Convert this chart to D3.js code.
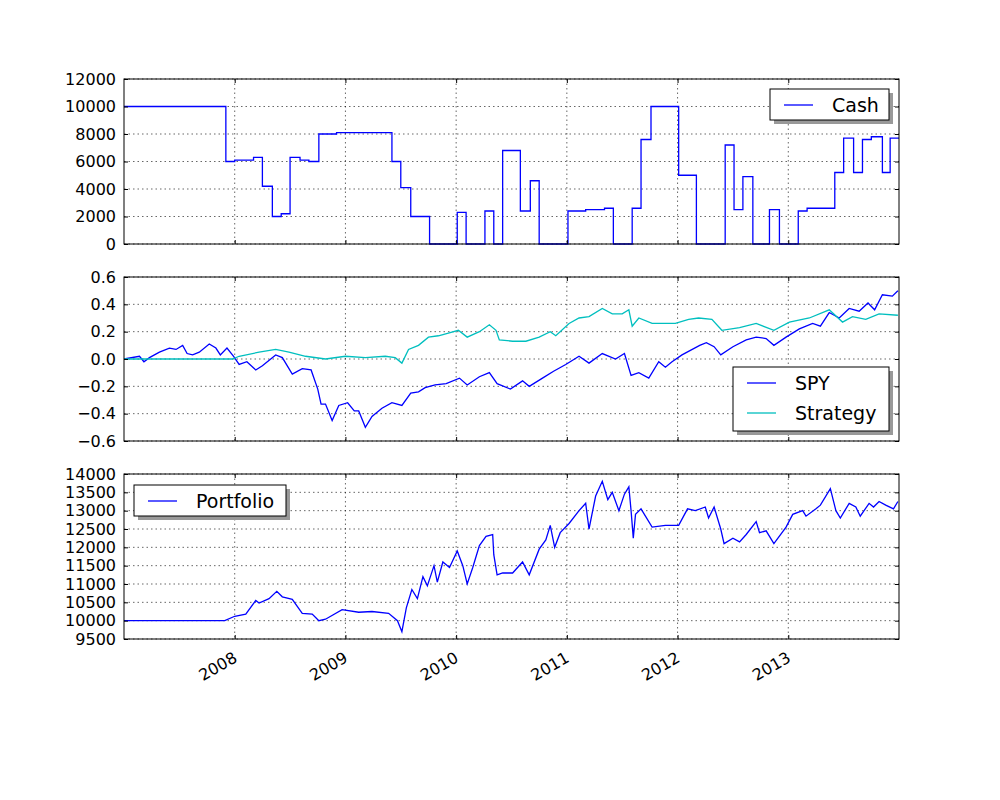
<!DOCTYPE html>
<html>
<head>
<meta charset="utf-8">
<script src="https://cdn.jsdelivr.net/npm/d3@7"></script>
<style>
  body { margin: 0; background: white; }
  text { font-family: "DejaVu Sans", sans-serif; }
</style>
</head>
<body>
<script>
// values, dates as decimal years
const yearTicks = [2008, 2009, 2010, 2011, 2012, 2013];

// cash is a step series: [year, new value]
const cash = [[2007.00,10000],[2007.92,6000],[2008.00,6100],[2008.17,6300],[2008.25,4200],[2008.34,2000],
  [2008.42,2200],[2008.50,6300],[2008.59,6100],[2008.67,6000],[2008.76,8000],[2008.92,8100],[2009.42,6000],
  [2009.50,4100],[2009.59,2000],[2009.76,0],[2010.01,2300],[2010.09,0],[2010.26,2400],[2010.34,0],
  [2010.42,6800],[2010.58,2400],[2010.67,4600],[2010.75,0],[2011.01,2400],[2011.17,2500],[2011.34,2600],
  [2011.42,0],[2011.59,2600],[2011.67,7600],[2011.76,10000],[2012.01,5000],[2012.17,0],[2012.43,7200],
  [2012.51,2500],[2012.59,4900],[2012.68,0],[2012.83,2500],[2012.92,0],[2013.09,2400],[2013.17,2600],
  [2013.42,5200],[2013.50,7700],[2013.59,5200],[2013.67,7600],[2013.75,7800],[2013.85,5200],
  [2013.92,7700],[2014.00,7700]];

const spy = [[2007.00,0.00],[2007.14,0.02],[2007.18,-0.02],[2007.23,0.01],[2007.32,0.05],[2007.41,0.08],
  [2007.47,0.07],[2007.53,0.10],[2007.57,0.04],[2007.62,0.03],[2007.68,0.05],[2007.77,0.11],[2007.83,0.08],
  [2007.87,0.03],[2007.93,0.08],[2007.99,0.02],[2008.04,-0.04],[2008.11,-0.02],[2008.19,-0.08],
  [2008.25,-0.05],[2008.37,0.03],[2008.43,0.01],[2008.52,-0.11],[2008.61,-0.07],[2008.69,-0.08],
  [2008.75,-0.22],[2008.78,-0.33],[2008.82,-0.33],[2008.88,-0.45],[2008.94,-0.34],[2009.02,-0.32],
  [2009.08,-0.38],[2009.12,-0.38],[2009.18,-0.50],[2009.24,-0.42],[2009.33,-0.36],[2009.42,-0.32],
  [2009.51,-0.34],[2009.59,-0.25],[2009.66,-0.24],[2009.72,-0.21],[2009.81,-0.19],[2009.91,-0.18],
  [2010.03,-0.14],[2010.10,-0.19],[2010.21,-0.13],[2010.30,-0.10],[2010.37,-0.18],[2010.49,-0.22],
  [2010.60,-0.16],[2010.66,-0.20],[2010.78,-0.14],[2010.88,-0.09],[2010.99,-0.04],[2011.11,0.02],
  [2011.20,-0.03],[2011.32,0.04],[2011.44,0.00],[2011.52,0.04],[2011.58,-0.12],[2011.65,-0.10],
  [2011.74,-0.14],[2011.83,-0.02],[2011.89,-0.06],[2011.95,-0.02],[2012.04,0.03],[2012.20,0.10],
  [2012.26,0.12],[2012.33,0.09],[2012.39,0.03],[2012.50,0.09],[2012.62,0.14],[2012.71,0.16],
  [2012.80,0.15],[2012.87,0.10],[2012.98,0.16],[2013.10,0.22],[2013.22,0.26],[2013.29,0.24],
  [2013.37,0.34],[2013.46,0.30],[2013.55,0.37],[2013.64,0.35],[2013.72,0.41],[2013.78,0.36],
  [2013.85,0.47],[2013.94,0.46],[2013.99,0.50]];

const strategy = [[2007.00,0],[2007.98,0],[2008.04,0.02],[2008.22,0.05],[2008.37,0.07],[2008.49,0.05],
  [2008.64,0.02],[2008.82,0.00],[2009.00,0.02],[2009.18,0.01],[2009.36,0.02],[2009.45,0.01],[2009.51,-0.03],
  [2009.57,0.07],[2009.66,0.10],[2009.75,0.16],[2009.84,0.17],[2009.93,0.19],[2010.02,0.21],[2010.10,0.16],
  [2010.21,0.20],[2010.30,0.25],[2010.36,0.21],[2010.39,0.14],[2010.51,0.13],[2010.63,0.13],[2010.75,0.16],
  [2010.85,0.20],[2010.90,0.17],[2011.02,0.26],[2011.11,0.30],[2011.20,0.31],[2011.32,0.37],[2011.41,0.33],
  [2011.50,0.33],[2011.56,0.36],[2011.59,0.24],[2011.65,0.30],[2011.77,0.26],[2011.98,0.26],[2012.10,0.29],
  [2012.19,0.30],[2012.31,0.29],[2012.40,0.21],[2012.56,0.23],[2012.71,0.26],[2012.87,0.21],[2013.01,0.27],
  [2013.19,0.30],[2013.37,0.36],[2013.49,0.27],[2013.58,0.31],[2013.70,0.29],[2013.82,0.33],[2013.99,0.32]];

const portfolio = [[2007.00,10000],[2007.91,10000],[2008.00,10120],[2008.10,10180],[2008.19,10550],
  [2008.22,10480],[2008.31,10600],[2008.38,10800],[2008.43,10650],[2008.52,10580],[2008.61,10200],
  [2008.70,10180],[2008.76,10000],[2008.82,10040],[2008.97,10300],[2009.12,10230],[2009.24,10250],
  [2009.39,10200],[2009.47,10000],[2009.51,9700],[2009.55,10350],[2009.60,10850],[2009.65,10600],
  [2009.70,11200],[2009.74,10950],[2009.80,11500],[2009.83,11050],[2009.88,11600],[2009.94,11450],
  [2010.01,11900],[2010.06,11500],[2010.10,11000],[2010.15,11450],[2010.21,12050],[2010.27,12300],
  [2010.33,12350],[2010.34,11800],[2010.37,11250],[2010.42,11300],[2010.51,11300],[2010.60,11600],
  [2010.66,11250],[2010.75,11950],[2010.81,12200],[2010.85,12600],[2010.89,12000],[2010.94,12400],
  [2011.02,12650],[2011.11,13000],[2011.17,13200],[2011.20,12500],[2011.26,13400],[2011.32,13800],
  [2011.37,13300],[2011.41,13500],[2011.47,13000],[2011.52,13450],[2011.56,13650],[2011.58,13000],
  [2011.60,12250],[2011.62,12900],[2011.67,13050],[2011.77,12550],[2011.89,12600],[2012.01,12600],
  [2012.09,13050],[2012.16,13000],[2012.25,13100],[2012.28,12800],[2012.33,13100],[2012.39,12500],
  [2012.42,12100],[2012.50,12250],[2012.56,12150],[2012.62,12350],[2012.71,12700],[2012.74,12400],
  [2012.80,12450],[2012.87,12100],[2012.98,12550],[2013.04,12900],[2013.13,13000],[2013.16,12850],
  [2013.25,13050],[2013.29,13150],[2013.38,13600],[2013.43,13000],[2013.47,12800],[2013.55,13200],
  [2013.61,13100],[2013.65,12850],[2013.73,13200],[2013.77,13100],[2013.82,13250],[2013.88,13150],
  [2013.95,13050],[2013.99,13250]];

const w = 1000, h = 800;
const left = 124, right = 899;
const svg = d3.select("body").append("svg").attr("width", w).attr("height", h);

const x = d3.scaleLinear().domain([2007, 2014]).range([left, right]);

const panels = [
  {top: 79, bottom: 244, domain: [0, 12000], ticks: d3.range(0, 12001, 2000), fmt: d3.format("d"),
   series: [{data: cash, color: "#0000ff", label: "Cash", step: true}],
   legend: {x: 770, y: 89, w: 119, h: 31}},
  {top: 277, bottom: 441, domain: [-0.6, 0.6], ticks: d3.range(-6, 7, 2).map(d => d / 10), fmt: d3.format(".1f"),
   series: [{data: spy, color: "#0000ff", label: "SPY"}, {data: strategy, color: "#00bfbf", label: "Strategy"}],
   legend: {x: 733, y: 367, w: 156, h: 64}},
  {top: 474, bottom: 639, domain: [9500, 14000], ticks: d3.range(9500, 14001, 500), fmt: d3.format("d"),
   series: [{data: portfolio, color: "#0000ff", label: "Portfolio"}],
   legend: {x: 134, y: 485, w: 152, h: 31}}
];

panels.forEach((p, pi) => {
  const y = d3.scaleLinear().domain(p.domain).range([p.bottom, p.top]);
  const g = svg.append("g");

  // grid
  g.selectAll(".gx").data(yearTicks).enter().append("line")
    .attr("x1", d => x(d)).attr("x2", d => x(d)).attr("y1", p.top).attr("y2", p.bottom)
    .attr("stroke", "black").attr("stroke-width", 0.6).attr("stroke-dasharray", "1.5,3");
  g.selectAll(".gy").data(p.ticks).enter().append("line")
    .attr("x1", left).attr("x2", right).attr("y1", d => y(d)).attr("y2", d => y(d))
    .attr("stroke", "black").attr("stroke-width", 0.6).attr("stroke-dasharray", "1.5,3");

  // lines
  p.series.forEach(s => {
    const line = d3.line().x(d => x(d[0])).y(d => y(d[1]));
    if (s.step) line.curve(d3.curveStepAfter);
    g.append("path").datum(s.data).attr("d", line)
      .attr("fill", "none").attr("stroke", s.color).attr("stroke-width", 1.3);
  });

  // axes with inward ticks
  const yl = d3.axisLeft(y).tickValues(p.ticks).tickFormat(p.fmt).tickSizeInner(-4).tickSizeOuter(0).tickPadding(8);
  const yr = d3.axisRight(y).tickValues(p.ticks).tickFormat("").tickSizeInner(-4).tickSizeOuter(0);
  const xb = d3.axisBottom(x).tickValues(yearTicks).tickFormat(pi === 2 ? d3.format("d") : "").tickSizeInner(-4).tickSizeOuter(0).tickPadding(8);
  const xt = d3.axisTop(x).tickValues(yearTicks).tickFormat("").tickSizeInner(-4).tickSizeOuter(0);
  const axes = [
    g.append("g").attr("transform", `translate(${left},0)`).call(yl),
    g.append("g").attr("transform", `translate(${right},0)`).call(yr),
    g.append("g").attr("transform", `translate(0,${p.bottom})`).call(xb),
    g.append("g").attr("transform", `translate(0,${p.top})`).call(xt)];
  axes.forEach(a => {
    a.selectAll(".domain").remove();
    a.selectAll("line").attr("stroke", "black");
    a.selectAll("text").attr("font-size", 16).attr("fill", "black");
  });
  if (pi === 2) {
    axes[2].selectAll("text").attr("text-anchor", "end").attr("y", 0).attr("dy", 0)
      .attr("transform", "translate(3,22) rotate(-30)");
  }

  g.append("rect").attr("x", left).attr("y", p.top).attr("width", right - left).attr("height", p.bottom - p.top)
    .attr("fill", "none").attr("stroke", "black").attr("stroke-width", 1);

  // legend with shadow
  const L = p.legend;
  g.append("rect").attr("x", L.x + 4).attr("y", L.y + 4).attr("width", L.w).attr("height", L.h).attr("fill", "#999");
  g.append("rect").attr("x", L.x).attr("y", L.y).attr("width", L.w).attr("height", L.h)
    .attr("fill", "white").attr("stroke", "black").attr("stroke-width", 1);
  p.series.forEach((s, i) => {
    const cy = L.y + 16 + i * 30;
    g.append("line").attr("x1", L.x + 14).attr("x2", L.x + 43).attr("y1", cy).attr("y2", cy)
      .attr("stroke", s.color).attr("stroke-width", 1.3);
    g.append("text").attr("x", L.x + 62).attr("y", cy).attr("dy", "0.35em")
      .attr("font-size", 19).text(s.label);
  });
});
</script>
</body>
</html>
